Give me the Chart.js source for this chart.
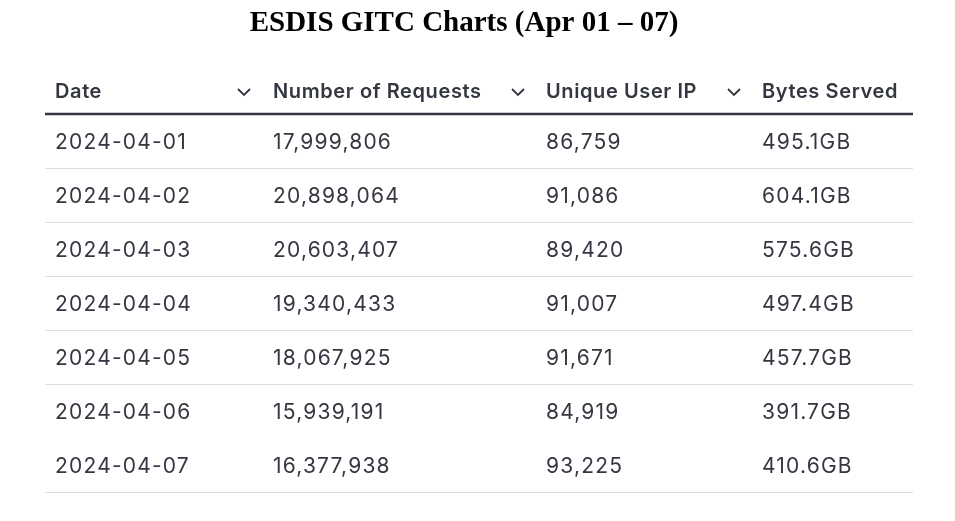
<!DOCTYPE html>
<html><head><meta charset="utf-8">
<script src="https://cdn.jsdelivr.net/npm/chart.js@4"></script>
<style>html,body{margin:0;background:#fff}#wrap{width:955px;height:521px}</style>
</head><body><div id="wrap"><canvas id="c"></canvas></div>
<script>
const title = 'ESDIS GITC Charts (Apr 01 \u2013 07)';
const columns = ['Date', 'Number of Requests', 'Unique User IP', 'Bytes Served'];
const dates = ['2024-04-01','2024-04-02','2024-04-03','2024-04-04','2024-04-05','2024-04-06','2024-04-07'];
const requests = [17999806, 20898064, 20603407, 19340433, 18067925, 15939191, 16377938];
const uniqueIPs = [86759, 91086, 89420, 91007, 91671, 84919, 93225];
const bytesGB = [495.1, 604.1, 575.6, 497.4, 457.7, 391.7, 410.6];

// column left edges in table units (x scale 0..868)
const colX = [10, 228, 501, 717];
const chevX = [199, 473, 689];
const TEXT = '#343741';

const tablePlugin = {
  id: 'table',
  afterDatasetsDraw(chart) {
    const { ctx, chartArea, scales: { x, y } } = chart;
    ctx.save();
    // title
    ctx.fillStyle = '#000';
    ctx.font = 'bold 29px "Liberation Serif", serif';
    ctx.textAlign = 'center';
    ctx.textBaseline = 'middle';
    ctx.fillText(title, 464, 24);
    // header
    ctx.textAlign = 'left';
    ctx.fillStyle = TEXT;
    ctx.font = '600 20px Inter, "Noto Sans", sans-serif';
    ctx.letterSpacing = '0.6px';
    const hy = chartArea.top - 22;
    columns.forEach((c, i) => ctx.fillText(c, x.getPixelForValue(colX[i]), hy));
    ctx.strokeStyle = TEXT;
    ctx.lineWidth = 1.8;
    chevX.forEach(cx => {
      const px = x.getPixelForValue(cx);
      ctx.beginPath();
      ctx.moveTo(px - 6, hy - 3); ctx.lineTo(px, hy + 3); ctx.lineTo(px + 6, hy - 3);
      ctx.stroke();
    });
    ctx.lineWidth = 2.5;
    ctx.beginPath();
    ctx.moveTo(chartArea.left, chartArea.top); ctx.lineTo(chartArea.right, chartArea.top);
    ctx.stroke();
    // cells
    ctx.font = '21px Inter, "Noto Sans", sans-serif';
    ctx.letterSpacing = '1.2px';
    ctx.fillStyle = TEXT;
    dates.forEach((d, r) => {
      const py = y.getPixelForValue(r) + 2;
      const cells = [d, requests[r].toLocaleString('en-US'), uniqueIPs[r].toLocaleString('en-US'), bytesGB[r].toFixed(1) + 'GB'];
      cells.forEach((t, i) => ctx.fillText(t, x.getPixelForValue(colX[i]), py));
    });
    ctx.restore();
  }
};

new Chart(document.getElementById('c'), {
  type: 'scatter',
  data: { labels: dates, datasets: [{ data: [], pointRadius: 0 }] },
  options: {
    responsive: true,
    maintainAspectRatio: false,
    animation: false,
    layout: { padding: { top: 114, left: 45, right: 42, bottom: 29 } },
    plugins: { legend: { display: false }, tooltip: { enabled: false } },
    scales: {
      x: { type: 'linear', min: 0, max: 868, display: false },
      y: {
        type: 'category', labels: dates, offset: true,
        grid: { offset: true, color: ctx => ctx.index === 0 || ctx.index >= dates.length - 1 ? 'rgba(0,0,0,0)' : '#d8dde6', drawTicks: false },
        border: { display: false },
        ticks: { display: false }
      }
    }
  },
  plugins: [tablePlugin]
});
</script></body></html>
